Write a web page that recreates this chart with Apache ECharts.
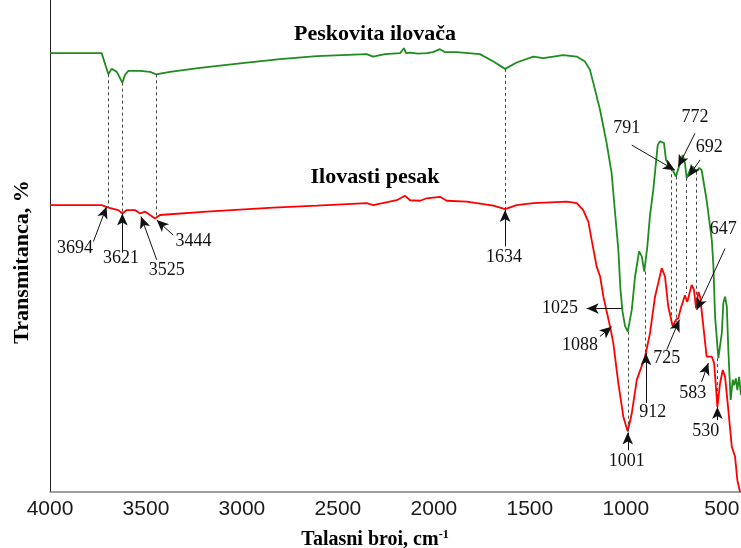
<!DOCTYPE html>
<html><head><meta charset="utf-8">
<script src="https://cdn.jsdelivr.net/npm/echarts@6/dist/echarts.min.js"></script>
<style>html,body{margin:0;padding:0;background:#fff}#c{width:741px;height:548px}</style>
</head><body><div id="c"></div>
<script>
// Peskovita ilovača (green)
const greenWavenumber = [4000,3731,3696,3679,3652,3623,3609,3592,3531,3479,3448,3375,3218,3010,2802,2610,2350,2317,2255,2176,2156,2145,2124,2083,2037,2005,1968,1942,1881,1760,1690,1629,1569,1482,1430,1326,1256,1213,1187,1169,1134,1100,1074,1056,1039,1028,1017,1004,990,969,952,931,917,904,888,874,857,834,822,813,801,791,761,739,718,704,692,683,662,648,636,617,605,579,552,544,535,518,500,492,483,474,466,454,443,436,427,419,410,400];
const greenTransmittance = [89.2,89.2,84.9,86.0,85.4,83.2,84.8,85.6,85.6,85.4,84.9,85.4,86.2,87.1,88.0,88.6,89.0,88.5,89.0,89.2,90.2,89.2,89.3,89.1,89.2,89.4,90.0,89.4,89.4,89.0,87.5,86.0,87.3,88.5,88.2,88.8,88.5,87.5,85.8,83.1,77.6,70.9,64.8,56.7,49.2,41.1,36.6,33.7,32.6,37.0,43.8,48.9,47.9,44.8,49.9,56.3,61.4,70.5,71.3,71.5,70.9,67.5,65.8,64.1,66.8,68.5,66.8,63.8,65.8,66.1,65.1,65.9,65.4,59.3,51.2,46.1,35.6,27.2,32.3,38.4,39.7,37.7,28.9,18.7,22.8,21.7,23.1,20.7,23.4,19.7];
// Ilovasti pesak (red)
const redWavenumber = [4000,3731,3696,3644,3623,3600,3557,3531,3505,3479,3453,3427,3184,2837,2610,2350,2316,2194,2150,2124,2072,2037,1968,1933,1829,1690,1629,1569,1482,1308,1256,1222,1195,1178,1152,1134,1117,1082,1065,1039,1013,990,969,943,900,874,848,813,796,779,756,739,727,714,692,680,657,645,634,622,613,596,579,552,540,523,509,495,483,466,448,431,419,405];
const redTransmittance = [58.3,58.3,57.8,57.3,56.6,57.3,57.3,56.6,57.0,56.3,55.6,56.3,57.0,57.8,58.2,58.7,58.3,59.3,60.2,59.3,59.2,59.7,60.0,59.2,59.0,58.2,57.5,58.3,58.7,59.0,58.7,57.3,54.9,51.2,45.8,43.8,39.7,33.6,30.2,22.1,15.3,12.3,16.0,22.8,27.5,32.3,39.7,45.5,43.8,37.7,33.7,35.0,35.3,37.3,40.0,38.6,42.1,41.1,37.3,40.7,39.7,33.6,27.5,27.5,26.2,17.3,22.1,24.8,23.4,16.7,9.2,7.2,2.4,0];

const tickValues = [4000,3500,3000,2500,2000,1500,1000,500];

// Peak annotations
const peakLabels = ['3694','3621','3525','3444','1634','1025','1088','1001','912','725','583','530','647','791','772','692'];
const labelPositions = [[3870,49.5],[3630,47.5],[3392,45.1],[3253,50.9],[1635,47.8],[1343,37.4],[1239,29.9],[995,6.2],[860,16.3],[787,27.2],[652,20.1],[584,12.3],[492,53.3],[995,73.9],[640,76.1],[565,70.1]];
const arrowTails = [[3774,50.9],[3623,48.8],[3444,47.2],[3358,52.2],[1629,49.9],[1021,37.3],[1135,31.6],[990,8.5],[895,18.1],[787,28.9],[605,22.4],[523,14.6],[483,49.5],[969,70.5],[640,72.9],[613,67.5]];
const arrowTips = [[3705,58.0],[3623,56.6],[3526,56.0],[3444,55.3],[1629,57.3],[1204,37.3],[1074,33.6],[990,12.1],[895,28.2],[721,35.0],[570,26.2],[523,17.3],[631,37.0],[744,65.4],[727,66.1],[674,64.1]];

// Dashed guide lines
const guideWavenumbers = [3699,3622,3448,1629,990,900,761,739,683,634,525];
const guideTops = [84.9,83.2,84.9,86.0,32.6,44.8,65.8,64.1,63.8,65.1,27.2];
const guideBottoms = [57.9,56.7,55.7,57.5,12.3,28.3,34.6,34.6,40.4,38.0,17.3];

const zip = (a, b) => a.map((v, i) => [v, b[i]]);

const chart = echarts.init(document.getElementById('c'), null, {renderer: 'canvas'});
const serif = 'Liberation Serif, Times New Roman, serif';

chart.setOption({
  animation: false,
  grid: {left: 50, right: 0, top: 0, bottom: 56, containLabel: false, outerBoundsMode: 'none'},
  xAxis: {
    type: 'value', min: 400, max: 4000, inverse: true,
    axisLine: {show: true, lineStyle: {color: '#808080', width: 1.5}},
    axisTick: {show: false},
    splitLine: {show: false},
    axisLabel: {customValues: tickValues, formatter: v => String(v), fontSize: 21, color: '#1a1a1a', fontFamily: 'Liberation Sans, Arial, sans-serif', margin: 7, hideOverlap: false}
  },
  yAxis: {
    type: 'value', min: 0, max: 100,
    axisLine: {show: true, lineStyle: {color: '#222', width: 1}},
    axisTick: {show: false}, axisLabel: {show: false}, splitLine: {show: false}
  },
  graphic: [
    {type: 'text', x: 375, y: 34, style: {text: 'Peskovita ilovača', font: 'bold 22px ' + serif, fill: '#000', textAlign: 'center', textVerticalAlign: 'middle'}},
    {type: 'text', x: 375, y: 177, style: {text: 'Ilovasti pesak', font: 'bold 22px ' + serif, fill: '#000', textAlign: 'center', textVerticalAlign: 'middle'}},
    {type: 'text', x: 22, y: 262, rotation: Math.PI / 2, style: {text: 'Transmitanca, %', font: 'bold 22px ' + serif, fill: '#000', textAlign: 'center', textVerticalAlign: 'middle'}},
    {type: 'text', x: 375, y: 540, style: {text: '{a|Talasni broi, cm}{b|-1}', textAlign: 'center', textVerticalAlign: 'middle',
      rich: {a: {font: 'bold 20px ' + serif, fill: '#000'}, b: {font: 'bold 12px ' + serif, fill: '#000', verticalAlign: 'top', padding: [0,0,10,0]}}}}
  ],
  series: [
    {
      name: 'Peskovita ilovača', type: 'line', data: zip(greenWavenumber, greenTransmittance),
      showSymbol: false, lineStyle: {color: '#1e8c1e', width: 1.8}, silent: true, z: 3,
      markLine: {
        silent: true, symbol: ['none', 'none'], label: {show: false},
        lineStyle: {type: [3, 3], color: '#444', width: 1},
        data: guideWavenumbers.map((w, i) => [{coord: [w, guideTops[i]]}, {coord: [w, guideBottoms[i]]}])
      }
    },
    {
      name: 'Ilovasti pesak', type: 'line', data: zip(redWavenumber, redTransmittance),
      showSymbol: false, lineStyle: {color: '#ff0000', width: 1.8}, silent: true, z: 4,
      markLine: {
        silent: true, symbol: ['none', 'arrow'], symbolSize: [8, 12], label: {show: false},
        lineStyle: {type: 'solid', color: '#111', width: 1},
        data: arrowTips.map((t, i) => [{coord: arrowTails[i]}, {coord: t}])
      }
    },
    {
      type: 'scatter', symbolSize: 1, itemStyle: {color: 'rgba(0,0,0,0)', opacity: 1}, silent: true, z: 5,
      data: labelPositions.map((p, i) => ({value: p, name: peakLabels[i]})),
      label: {show: true, position: 'inside', formatter: p => p.name, fontFamily: serif, fontSize: 18, color: '#111', textBorderWidth: 0, opacity: 1},
      labelLayout: {hideOverlap: false}
    }
  ]
});
</script></body></html>
